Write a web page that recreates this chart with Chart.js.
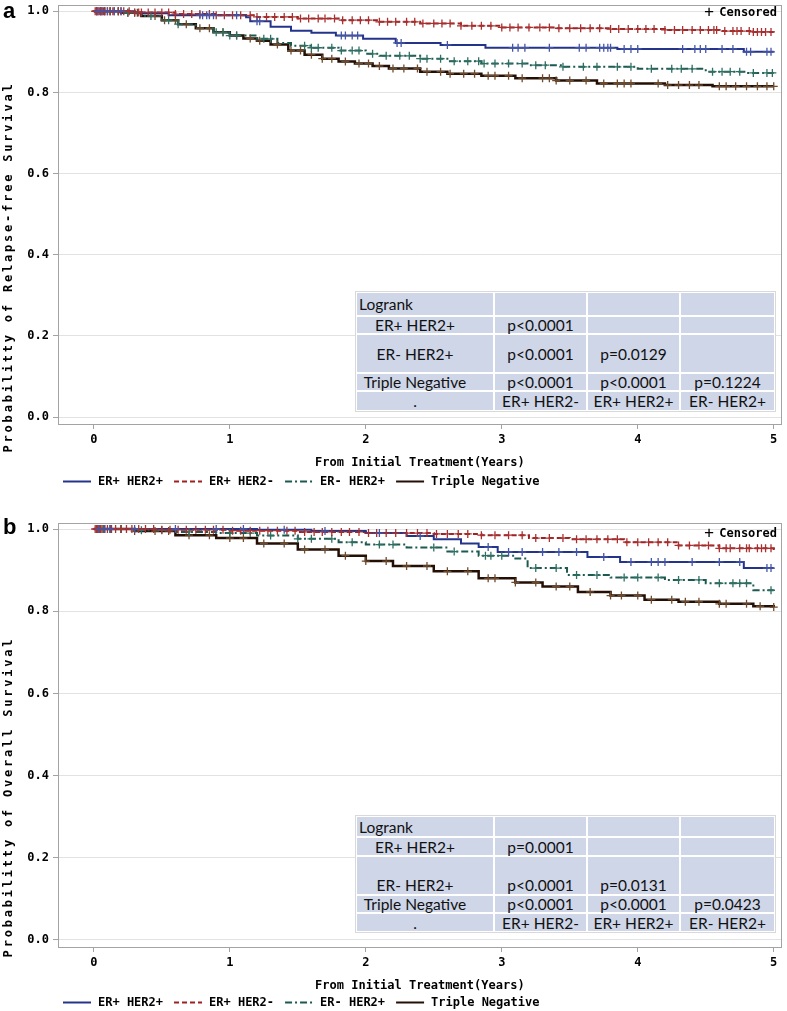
<!DOCTYPE html>
<html><head><meta charset="utf-8">
<script src="https://cdn.jsdelivr.net/npm/chart.js"></script>
<style>
body{margin:0;background:#fff;width:787px;height:1011px;position:relative;overflow:hidden;}
canvas{position:absolute;left:0;}
.lab{position:absolute;left:3px;font:bold 22px "Liberation Sans",Arial,sans-serif;color:#000;line-height:22px;}
.tbl{position:absolute;left:355px;background:#fff;border:1px solid #d9d9d9;padding:1px;display:grid;grid-template-columns:136px 91px 91px 93px;gap:2px;font:15.5px Lato,"Open Sans",sans-serif;color:#111;}
.tbl div{background:#cfd6e8;display:flex;align-items:center;justify-content:center;white-space:nowrap;line-height:16px;}
.tbl div.l{justify-content:flex-start;padding-left:2px;}
.tbl div.c1{padding-right:20px;}
.tbl div.bt{align-items:flex-end;padding-bottom:1px;}
</style></head><body>
<canvas id="ca" width="787" height="500" style="top:0"></canvas>
<canvas id="cb" width="787" height="511" style="top:500px"></canvas>
<div class="lab" style="top:0px">a</div>
<div class="lab" style="top:516px">b</div>
<div class="tbl" id="ta" style="top:291px;grid-template-rows:22px 16px 37px 16px 18px"></div>
<div class="tbl" id="tb" style="top:815px;grid-template-rows:19px 17px 37px 16px 17px"></div>
<script>
// ---------- data ----------
const seriesNames = ["ER+ HER2+", "ER+ HER2-", "ER- HER2+", "Triple Negative"];
const xTicks = [0, 1, 2, 3, 4, 5];
const yTicks = [0, 0.2, 0.4, 0.6, 0.8, 1.0];

// Panel a: Relapse-free survival (step times, survival)
const a_erpHerp_t = [0,0.3,0.55,1.12,1.15,1.3,1.45,1.6,1.78,1.98,2.22,2.55,2.88,3.85,4.78,5.0];
const a_erpHerp_s = [1,0.995,0.99,0.985,0.975,0.962,0.952,0.947,0.94,0.932,0.922,0.917,0.91,0.907,0.9,0.9];
const a_erpHern_t = [0,0.3,0.6,0.9,1.2,1.5,1.8,2.1,2.4,2.7,3.0,3.4,3.8,4.2,4.6,4.85,5.0];
const a_erpHern_s = [1,0.997,0.993,0.99,0.986,0.982,0.978,0.974,0.97,0.964,0.96,0.958,0.956,0.954,0.951,0.949,0.949];
const a_ernHerp_t = [0,0.2,0.35,0.5,0.62,0.75,0.88,1.0,1.2,1.35,1.45,1.6,1.8,2.0,2.1,2.4,2.6,2.85,3.2,3.45,4.0,4.5,4.8,5.0];
const a_ernHerp_s = [1,0.996,0.988,0.978,0.968,0.958,0.948,0.94,0.932,0.922,0.915,0.91,0.903,0.895,0.89,0.883,0.877,0.871,0.867,0.863,0.858,0.851,0.848,0.848];
const a_tn_t = [0,0.2,0.35,0.5,0.62,0.75,0.88,1.0,1.1,1.2,1.3,1.43,1.55,1.68,1.8,1.92,2.05,2.17,2.4,2.6,2.85,3.1,3.4,3.7,4.2,4.55,5.0];
const a_tn_s = [1,0.996,0.988,0.978,0.968,0.958,0.948,0.94,0.933,0.927,0.918,0.903,0.893,0.883,0.876,0.871,0.865,0.859,0.851,0.846,0.841,0.835,0.829,0.822,0.818,0.815,0.815];

// Panel a: censoring times
const a_erpHerp_c = [0.03,0.06,0.1,0.15,0.2,0.78,0.8,0.83,0.85,0.88,1.05,1.2,1.22,1.82,1.85,1.9,1.94,2.23,2.26,2.6,3.08,3.12,3.17,3.35,3.57,3.62,3.72,3.75,3.78,3.8,3.9,3.95,4.0,4.33,4.42,4.46,4.5,4.62,4.7,4.8,4.83,4.95,4.98];
const a_erpHern_c = [0.01,0.02,0.03,0.04,0.05,0.06,0.07,0.08,0.1,0.12,0.14,0.15,0.18,0.2,0.22,0.26,0.3,0.33,0.35,0.4,0.45,0.5,0.55,0.6,0.66,0.72,0.78,0.85,0.9,0.96,1.02,1.08,1.15,1.2,1.27,1.33,1.4,1.46,1.52,1.58,1.65,1.7,1.77,1.83,1.9,1.96,2.02,2.1,2.16,2.22,2.3,2.36,2.42,2.5,2.56,2.62,2.7,2.78,2.85,2.92,3.0,3.06,3.12,3.2,3.28,3.35,3.42,3.5,3.58,3.65,3.72,3.8,3.86,3.93,4.0,4.06,4.12,4.2,4.27,4.33,4.4,4.46,4.52,4.56,4.58,4.64,4.7,4.73,4.76,4.82,4.85,4.88,4.91,4.94,4.98];
const a_ernHerp_c = [0.02,0.05,0.08,0.12,0.18,0.25,0.3,0.42,0.55,0.62,0.9,0.95,1.0,1.05,1.25,1.3,1.55,1.6,1.65,1.75,1.82,1.9,1.95,2.05,2.15,2.25,2.32,2.4,2.45,2.55,2.65,2.75,2.83,2.87,2.95,3.05,3.15,3.25,3.32,3.45,3.6,3.7,3.85,3.95,4.1,4.25,4.32,4.4,4.55,4.62,4.68,4.75,4.85,4.95,4.99];
const a_tn_c = [0.02,0.05,0.08,0.12,0.18,0.25,0.32,0.45,0.52,0.6,0.68,0.78,0.85,0.95,1.05,1.15,1.22,1.35,1.45,1.52,1.6,1.68,1.75,1.85,1.95,2.02,2.1,2.2,2.28,2.38,2.45,2.55,2.62,2.72,2.8,2.9,2.95,3.05,3.15,3.3,3.35,3.4,3.5,3.62,3.75,3.85,3.9,3.95,4.15,4.22,4.3,4.38,4.45,4.6,4.65,4.72,4.8,4.88,4.95,5.0];

// Panel b: Overall survival
const b_erpHerp_t = [0,1.2,1.6,2.0,2.3,2.5,2.7,2.83,2.97,3.63,3.87,4.78,5.0];
const b_erpHerp_s = [1,0.998,0.995,0.99,0.983,0.975,0.965,0.956,0.944,0.932,0.92,0.905,0.905];
const b_erpHern_t = [0,0.5,1.0,1.5,2.0,2.5,2.85,3.2,3.5,3.9,4.3,4.6,5.0];
const b_erpHern_s = [1,0.998,0.996,0.993,0.99,0.988,0.985,0.978,0.975,0.968,0.96,0.953,0.945];
const b_ernHerp_t = [0,0.3,0.6,0.9,1.2,1.5,1.8,2.0,2.3,2.6,2.83,3.1,3.19,3.48,3.8,4.2,4.5,4.85,5.0];
const b_ernHerp_s = [1,0.997,0.993,0.99,0.984,0.976,0.968,0.962,0.955,0.945,0.935,0.928,0.905,0.888,0.882,0.876,0.868,0.851,0.851];
const b_tn_t = [0,0.3,0.6,0.9,1.2,1.5,1.8,2.0,2.2,2.5,2.83,3.1,3.3,3.56,3.8,4.05,4.3,4.6,4.85,5.0];
const b_tn_s = [1,0.995,0.985,0.978,0.965,0.95,0.935,0.922,0.91,0.897,0.88,0.87,0.86,0.847,0.838,0.828,0.823,0.818,0.812,0.81];

const b_erpHerp_c = [0.04,0.08,0.12,0.3,0.6,0.9,1.1,1.4,1.7,2.1,2.4,2.9,3.05,3.15,3.3,3.42,3.55,3.75,3.95,4.1,4.15,4.2,4.4,4.6,4.75,4.95,4.98];
const b_erpHern_c = [0.01,0.02,0.03,0.04,0.05,0.06,0.08,0.1,0.13,0.16,0.2,0.24,0.28,0.33,0.38,0.44,0.5,0.56,0.62,0.68,0.75,0.82,0.88,0.95,1.02,1.08,1.15,1.22,1.28,1.35,1.42,1.48,1.55,1.62,1.68,1.75,1.82,1.88,1.95,2.02,2.08,2.15,2.22,2.3,2.38,2.45,2.52,2.6,2.68,2.75,2.85,2.95,3.05,3.15,3.25,3.35,3.45,3.55,3.62,3.7,3.78,3.85,3.92,4.0,4.08,4.15,4.22,4.3,4.38,4.45,4.52,4.6,4.65,4.68,4.75,4.8,4.82,4.88,4.91,4.94,4.98];
const b_ernHerp_c = [0.03,0.07,0.12,0.2,0.35,0.5,0.7,1.0,1.15,1.3,1.5,1.6,1.75,1.9,2.1,2.2,2.5,2.65,2.88,2.92,3.0,3.25,3.4,3.55,3.7,3.9,4.0,4.15,4.3,4.45,4.6,4.7,4.75,4.8,4.98];
const b_tn_c = [0.03,0.07,0.12,0.2,0.3,0.45,0.55,0.7,0.85,1.0,1.1,1.25,1.4,1.55,1.7,1.85,2.0,2.15,2.3,2.45,2.6,2.75,2.9,2.95,3.1,3.25,3.4,3.5,3.65,3.8,3.88,4.0,4.1,4.25,4.35,4.45,4.6,4.65,4.8,4.9,5.0];

// Logrank tables
const tableA = [
  ["Logrank", "", "", ""],
  ["ER+ HER2+", "p<0.0001", "", ""],
  ["ER- HER2+", "p<0.0001", "p=0.0129", ""],
  ["Triple Negative", "p<0.0001", "p<0.0001", "p=0.1224"],
  [".", "ER+ HER2-", "ER+ HER2+", "ER- HER2+"]
];
const tableB = [
  ["Logrank", "", "", ""],
  ["ER+ HER2+", "p=0.0001", "", ""],
  ["ER- HER2+", "p<0.0001", "p=0.0131", ""],
  ["Triple Negative", "p<0.0001", "p<0.0001", "p=0.0423"],
  [".", "ER+ HER2-", "ER+ HER2+", "ER- HER2+"]
];

// ---------- styles ----------
const lineColors = ["#24348a", "#9e2020", "#1c5a50", "#240f05"];
const lineWidths = [2, 2, 2, 2.5];
const crossColors = ["#4555a5", "#a83030", "#2f6f62", "#6e4a2c"];
const dashes = [[], [5, 3], [7, 3, 2, 3], []];
const MONO = '"DejaVu Sans Mono", monospace';

function stepAt(T, S, t) { let v = S[0]; for (let i = 0; i < T.length; i++) if (T[i] <= t) v = S[i]; return v; }

function buildTable(id, rows, tallBottom) {
  const el = document.getElementById(id);
  rows.forEach((r, ri) => r.forEach((c, ci) => {
    const d = document.createElement('div');
    d.textContent = c;
    if (ri === 0 && ci === 0) d.className = 'l';
    else if (ci === 0) d.className = 'c1';
    if (tallBottom && ri === 2) d.className += ' bt';
    el.appendChild(d);
  }));
}
buildTable('ta', tableA, false);
buildTable('tb', tableB, true);

const overlay = {
  id: 'overlay',
  afterDraw(chart, args, o) {
    const ctx = chart.ctx, a = chart.chartArea;
    ctx.save();
    ctx.strokeStyle = '#a3a3a3'; ctx.lineWidth = 1; ctx.setLineDash([]);
    ctx.strokeRect(Math.round(a.left) + 0.5, Math.round(a.top) + 0.5, Math.round(a.right - a.left) - 1, Math.round(a.bottom - a.top));
    ctx.fillStyle = '#000';
    ctx.font = 'bold 12px ' + MONO;
    ctx.translate(9, o.yCenter); ctx.rotate(-Math.PI / 2);
    ctx.letterSpacing = '2.8px';
    ctx.textAlign = 'center'; ctx.textBaseline = 'middle';
    ctx.fillText(o.yTitle, 0, 0);
    ctx.restore();
    ctx.save();
    ctx.font = 'bold 12px ' + MONO; ctx.fillStyle = '#000'; ctx.textBaseline = 'middle';
    ctx.textAlign = 'right';
    ctx.fillText('Censored', 777, o.censY);
    ctx.font = '16px ' + MONO;
    ctx.fillText('+', 714, o.censY);
    ctx.font = 'bold 12px ' + MONO;
    ctx.textAlign = 'left';
    let x = 63; const y = o.legendY;
    seriesNames.forEach((n, i) => {
      ctx.strokeStyle = lineColors[i]; ctx.lineWidth = 2; ctx.setLineDash(dashes[i]);
      ctx.beginPath(); ctx.moveTo(x, y + 0.5); ctx.lineTo(x + 28, y + 0.5); ctx.stroke();
      ctx.setLineDash([]);
      ctx.fillText(n, x + 35, y + 1);
      x = x + 35 + ctx.measureText(n).width + 11;
    });
    ctx.restore();
  }
};

function makeChart(id, curves, cens, opt) {
  const datasets = [];
  curves.forEach((c, i) => {
    datasets.push({
      label: seriesNames[i], data: c[0].map((t, k) => ({ x: t, y: c[1][k] })),
      stepped: true, borderColor: lineColors[i], borderWidth: lineWidths[i], borderDash: dashes[i],
      pointRadius: 0, fill: false, order: 2
    });
  });
  curves.forEach((c, i) => {
    datasets.push({
      label: seriesNames[i] + ' censored', data: cens[i].map(t => ({ x: t, y: stepAt(c[0], c[1], t) })),
      showLine: false, pointStyle: 'cross', pointRadius: 4, borderWidth: 1.3,
      borderColor: crossColors[i], backgroundColor: crossColors[i], order: 1
    });
  });
  return new Chart(document.getElementById(id), {
    type: 'line',
    data: { datasets },
    plugins: [overlay],
    options: {
      responsive: false, animation: false, devicePixelRatio: 1,
      layout: { padding: { top: opt.top, right: 2, bottom: opt.bottom, left: 0 } },
      plugins: { legend: { display: false }, tooltip: { enabled: false }, overlay: opt },
      scales: {
        x: {
          type: 'linear', min: -0.2635, max: 5.0586,
          afterBuildTicks: s => { s.ticks = xTicks.map(v => ({ value: v })); },
          afterFit: s => { s.height = 46; s.paddingLeft = 0; s.paddingRight = 0; },
          grid: { drawOnChartArea: false, drawTicks: true, tickLength: 5, tickColor: '#a3a3a3' },
          border: { display: false },
          ticks: { padding: 4, color: '#000', font: { family: MONO, size: 12, weight: 'bold' }, maxRotation: 0, callback: v => String(v) },
          title: { display: true, text: 'From Initial Treatment(Years)', color: '#000', padding: { top: 0, bottom: 0 }, font: { family: MONO, size: 12, weight: 'bold' } }
        },
        y: {
          type: 'linear', min: -0.0171, max: 1.0146,
          afterBuildTicks: s => { s.ticks = yTicks.map(v => ({ value: v })); },
          afterFit: s => { s.width = 58; s.paddingTop = 0; s.paddingBottom = 0; },
          grid: { color: '#e2e2e2', tickColor: '#a3a3a3', tickLength: 5, drawTicks: true },
          border: { display: false },
          ticks: { padding: 4, color: '#000', font: { family: MONO, size: 12, weight: 'bold' }, callback: v => v.toFixed(1) }
        }
      }
    }
  });
}

makeChart('ca',
  [[a_erpHerp_t, a_erpHerp_s], [a_erpHern_t, a_erpHern_s], [a_ernHerp_t, a_ernHerp_s], [a_tn_t, a_tn_s]],
  [a_erpHerp_c, a_erpHern_c, a_ernHerp_c, a_tn_c],
  { top: 1, bottom: 30, yTitle: 'Probabilitty of Relapse-free Survival', yCenter: 267, legendY: 481, censY: 13 });
makeChart('cb',
  [[b_erpHerp_t, b_erpHerp_s], [b_erpHern_t, b_erpHern_s], [b_ernHerp_t, b_ernHerp_s], [b_tn_t, b_tn_s]],
  [b_erpHerp_c, b_erpHern_c, b_ernHerp_c, b_tn_c],
  { top: 23, bottom: 18, yTitle: 'Probabilitty of Overall Survival', yCenter: 297, legendY: 502, censY: 34 });
</script>
</body></html>
